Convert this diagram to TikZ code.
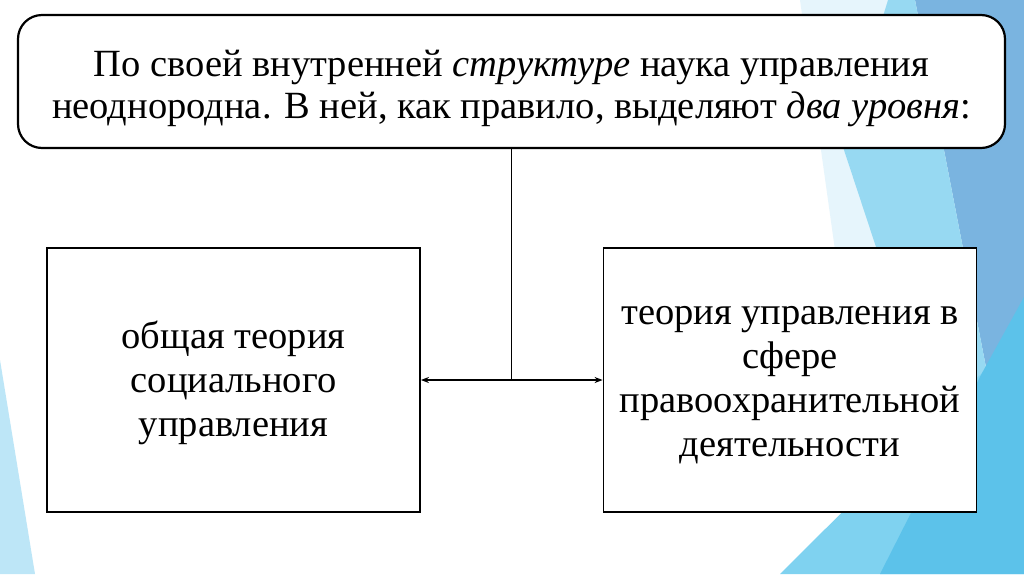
\documentclass[tikz,border=0pt]{standalone}
\usepackage{fontspec}
\setmainfont{Liberation Serif}
\usepackage{xcolor}
\usepackage{tikz}
\usetikzlibrary{arrows.meta, positioning, calc}

\definecolor{facetdark}{HTML}{7AB4E0}
\definecolor{facetcyan}{HTML}{97D9F2}
\definecolor{facetpale}{HTML}{E6F5FC}
\definecolor{facetlight}{HTML}{7FD2F0}
\definecolor{facetsky}{HTML}{5CC2EA}
\definecolor{facetleft}{HTML}{BDE6F7}

% strut that pushes a text block down inside its box
\newcommand{\topgap}[1]{\rule{0pt}{#1}}

\begin{document}
\begin{tikzpicture}[
  x=1pt, y=-1pt,
  every node/.style={font=\fontsize{38.5}{44}\selectfont, align=center, inner sep=0pt},
  headbox/.style={draw, line width=2.2pt, rounded corners=24pt, fill=white,
    minimum width=987pt, minimum height=133pt, font=\fontsize{38.5}{42}\selectfont},
  levelbox/.style={draw, line width=1.8pt, fill=white, minimum width=373pt,
    minimum height=264pt},
  arrow/.style={{Stealth[length=8pt,width=6pt]}-{Stealth[length=8pt,width=6pt]}, line width=1.4pt},
  link/.style={line width=1.4pt},
]
  \useasboundingbox (0,0) rectangle (1024,574);
  \fill[white] (0,0) rectangle (1024,574);

  % slide background
  \fill[facetdark] (915,0) -- (1024,0) -- (1024,564) -- cycle;
  \fill[facetpale] (800,0) -- (888,0) -- (877,250) -- (835,250) -- cycle;
  \fill[facetcyan] (888,0) -- (915,0) -- (1024,564) -- (970,530) -- (877,250) -- (843,147) -- cycle;
  \fill[facetlight] (780,574) -- (985,370) -- (1024,574) -- cycle;
  \fill[facetsky] (1024,297) -- (982,373) -- (880,574) -- (1024,574) -- cycle;
  \fill[facetleft] (0,360) -- (35,574) -- (0,574) -- cycle;

  \node (head) [headbox] at (511.5,81.5)
    {\topgap{40pt}По своей внутренней \textit{структуре} наука управления\\
     неоднородна. В ней, как правило, выделяют \textit{два уровня}:};
  \node (general) [levelbox] at (233.5,380)
    {\topgap{34pt}общая теория\\ социального\\ управления};
  \node (special) [levelbox] at (790,380)
    {\topgap{29pt}теория управления в\\ сфере\\ правоохранительной\\ деятельности};

  \coordinate (fork) at (head.south |- general.east);

  \draw[link] (head.south) -- (fork);
  \draw[arrow] (general.east) -- (special.west);
\end{tikzpicture}
\end{document}
